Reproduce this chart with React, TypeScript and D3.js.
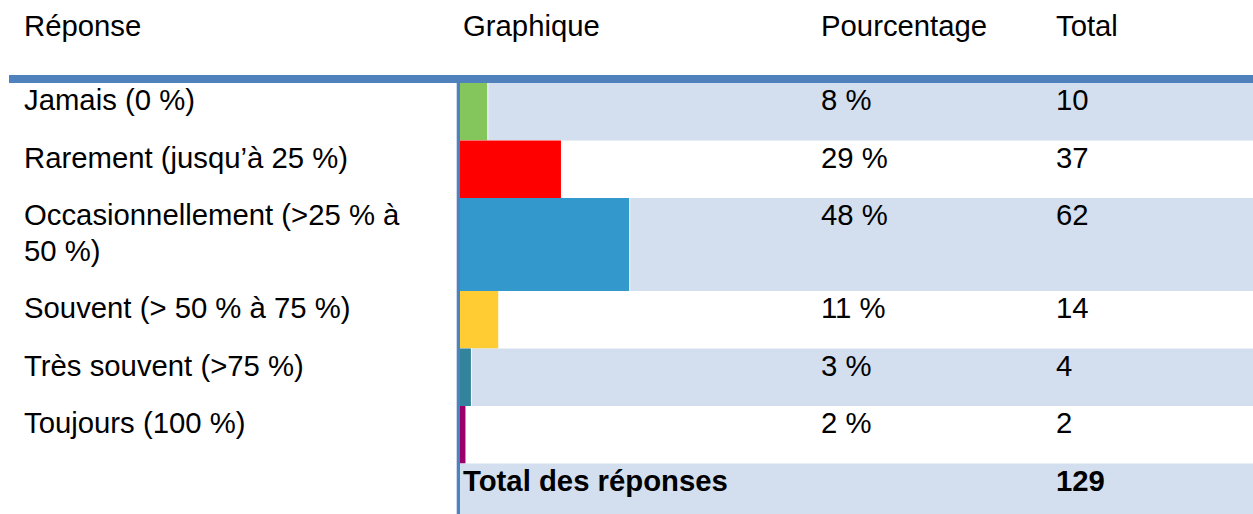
import React from "react";
import * as d3 from "d3";

const headers = ["Réponse", "Graphique", "Pourcentage", "Total"];
const categories = [
  "Jamais (0 %)",
  "Rarement (jusqu’à 25 %)",
  "Occasionnellement (>25 % à 50 %)",
  "Souvent (> 50 % à 75 %)",
  "Très souvent (>75 %)",
  "Toujours (100 %)",
];
const counts = [10, 37, 62, 14, 4, 2];
const percentLabels = ["8 %", "29 %", "48 %", "11 %", "3 %", "2 %"];
const barColors = ["#84C65B", "#FF0000", "#3399CC", "#FFCC33", "#31849B", "#99006B"];
const totalLabel = "Total des réponses";
const totalValue = 129;

const W = 1253;
const H = 514;
const FONT = "'Liberation Sans', Arial, sans-serif";
const FS = 29.3;
const SHADE = "#D3DFEE";
const ACCENT = "#4F81BD";

function wrap(text: string, maxW: number): string[] {
  const canvas = document.createElement("canvas");
  const ctx = canvas.getContext("2d")!;
  ctx.font = `${FS}px ${FONT}`;
  const words = text.split(" ");
  const lines: string[] = [];
  let cur = "";
  for (const w of words) {
    const t = cur ? cur + " " + w : w;
    if (ctx.measureText(t).width > maxW && cur) {
      lines.push(cur);
      cur = w;
    } else cur = t;
  }
  if (cur) lines.push(cur);
  return lines;
}

export default function App() {
  const colX = [24, 463, 821, 1056];
  const headerLineY = 75;
  const headerLineH = 8;
  const tableTop = headerLineY + headerLineH;
  const rowH = 57.5;
  const lineH = 35.5;
  const barX0 = 460;

  const x = d3.scaleLinear().domain([0, totalValue]).range([0, 352]);

  const wrapped = categories.map((c) => wrap(c, 410));
  const rows: { y: number; h: number; lines: string[] }[] = [];
  let y = tableTop;
  wrapped.forEach((lines) => {
    const h = rowH + (lines.length - 1) * lineH;
    rows.push({ y, h, lines });
    y += h;
  });
  const totalY = y;

  return (
    <svg
      width={W}
      height={H}
      style={{ position: "absolute", left: 0, top: 0, background: "#fff" }}
      fontFamily={FONT}
      fontSize={FS}
    >
      <rect x={0} y={0} width={W} height={H} fill="#fff" />
      {headers.map((h, i) => (
        <text key={h} x={colX[i]} y={36} fill="#000">
          {h}
        </text>
      ))}
      {rows.map((r, i) => (
        <g key={i}>
          {i % 2 === 0 && (
            <rect x={barX0} y={r.y} width={W - barX0} height={r.h} fill={SHADE} />
          )}
          <rect x={barX0} y={r.y} width={x(counts[i]) + 1} height={r.h} fill="#fff" />
          <rect x={barX0} y={r.y} width={x(counts[i])} height={r.h} fill={barColors[i]} />
          {r.lines.map((l, j) => (
            <text key={j} x={colX[0]} y={r.y + 27 + j * lineH} fill="#000">
              {l}
            </text>
          ))}
          <text x={colX[2]} y={r.y + 27} fill="#000">
            {percentLabels[i]}
          </text>
          <text x={colX[3]} y={r.y + 27} fill="#000">
            {counts[i]}
          </text>
        </g>
      ))}
      <rect x={barX0} y={totalY} width={W - barX0} height={H - totalY} fill={SHADE} />
      <text x={colX[1]} y={totalY + 27} fill="#000" fontWeight="bold">
        {totalLabel}
      </text>
      <text x={colX[3]} y={totalY + 27} fill="#000" fontWeight="bold">
        {totalValue}
      </text>
      <rect x={9} y={headerLineY} width={W - 9} height={headerLineH} fill={ACCENT} />
      <rect x={456.7} y={tableTop} width={3.3} height={H - tableTop} fill={ACCENT} />
    </svg>
  );
}
